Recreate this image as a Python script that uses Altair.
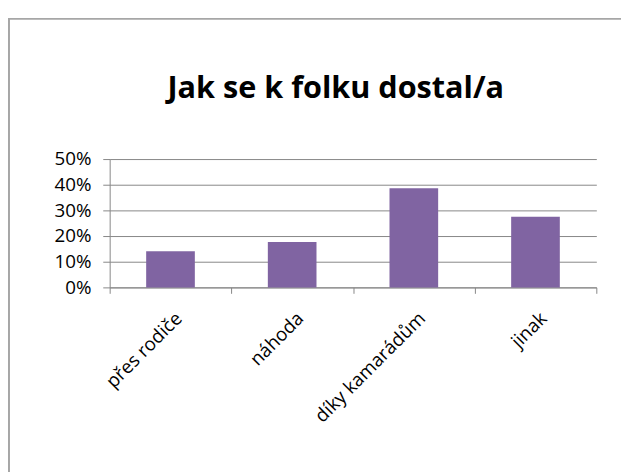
import altair as alt
import pandas as pd

categories = ["přes rodiče", "náhoda", "díky kamarádům", "jinak"]
values = [0.141, 0.177, 0.386, 0.275]
title_text = ["Jak se k folku dostal/a"]

df = pd.DataFrame({"cat": categories, "val": values})
tdf = pd.DataFrame({"t": title_text})

FONT = "Open Sans"
GRID = "#868686"

xenc = alt.X("cat:N", sort=categories, title=None,
             scale=alt.Scale(paddingInner=0, paddingOuter=0),
             axis=alt.Axis(labelAngle=-45, labelAlign="right", labelBaseline="middle",
                           tickBand="extent", domainColor=GRID, tickColor=GRID,
                           tickSize=6, labelFontSize=19, labelFont=FONT,
                           labelColor="#000000", labelPadding=22, labelOffset=8,
                           grid=False))

bars = alt.Chart(df).mark_bar(color="#8064A2", width=alt.RelativeBandSize(0.4)).encode(
    x=xenc,
    y=alt.Y("val:Q", title=None,
            scale=alt.Scale(domain=[0, 0.5], nice=False),
            axis=alt.Axis(format=".0%", values=[0, 0.1, 0.2, 0.3, 0.4, 0.5],
                          grid=True, gridColor=GRID, gridWidth=1,
                          domainColor=GRID, tickColor=GRID, tickSize=7,
                          labelFontSize=19, labelFont=FONT, labelColor="#000000",
                          labelPadding=12)),
)

frame = alt.Chart(tdf).mark_rect(fill=None, stroke="#a6a6a6", strokeWidth=2).encode(
    x=alt.value(-102), x2=alt.value(530),
    y=alt.value(-142), y2=alt.value(330),
)

title = alt.Chart(tdf).mark_text(font=FONT, fontSize=31, fontWeight="bold",
                                 color="#000000", align="center",
                                 baseline="alphabetic").encode(
    text="t:N",
    x=alt.value(229), y=alt.value(-62),
)

chart = alt.layer(frame, bars, title).properties(
    width=493, height=130,
    padding={"left": 103, "top": 150, "right": 25, "bottom": 184},
    autosize=alt.AutoSizeParams(type="none"),
).configure_view(stroke=None)

chart.save("out.html", embed_options={"renderer": "svg", "actions": False})
